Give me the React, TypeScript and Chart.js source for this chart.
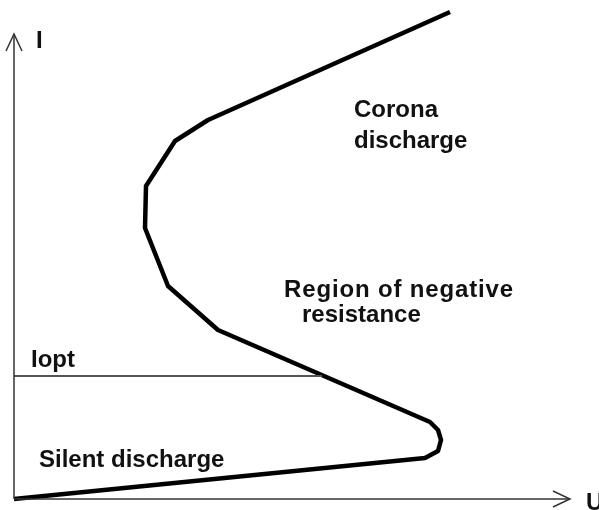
import React, { useEffect, useRef } from "react";
import { Chart, registerables } from "chart.js";

Chart.register(...registerables);

// Characteristic curve I(U) (arbitrary units, origin at axes' crossing)
const curveU = [0, 411, 424, 427, 424, 416, 204, 154, 131, 132, 161, 194, 436];
const curveI = [0, 41, 48, 59, 69, 77, 169, 213, 271, 313, 358, 379, 487];

// Axes extent and arrowheads
const axisUMax = 556;
const axisIMax = 465;
const arrowLen = 17;
const arrowHalf = 8;

// Optimal current level
const iopt = 123;
const ioptUEnd = 308;

// Text labels: [text, U, I, letterSpacing]
const labels: [string, number, number, number][] = [
  ["I", 22, 451, 0],
  ["Corona", 340, 382, 0],
  ["discharge", 340, 351, 0],
  ["Region of negative", 270, 202, 0.85],
  ["resistance", 288, 177, 0],
  ["Iopt", 17, 132, 0],
  ["Silent discharge", 25, 32, 0],
  ["U", 572, -11, 0],
];

const textPlugin = {
  id: "textLabels",
  afterDatasetsDraw(chart: any) {
    const { ctx, scales } = chart;
    ctx.save();
    ctx.fillStyle = "#111";
    ctx.font = 'bold 24px "Liberation Sans", Arial, sans-serif';
    ctx.textBaseline = "alphabetic";
    ctx.textAlign = "left";
    for (const [t, u, i, ls] of labels) {
      (ctx as any).letterSpacing = ls + "px";
      ctx.fillText(t, scales.x.getPixelForValue(u), scales.y.getPixelForValue(i));
    }
    ctx.restore();
  },
};

export default function App() {
  const ref = useRef<HTMLCanvasElement | null>(null);
  useEffect(() => {
    if (!ref.current) return;
    const thin = (data: { x: number; y: number }[], w = 1.5, c = "#333") => ({
      data,
      showLine: true,
      borderColor: c,
      borderWidth: w,
      pointRadius: 0,
      fill: false,
      tension: 0,
    });
    const chart = new Chart(ref.current, {
      type: "scatter",
      data: {
        datasets: [
          thin([{ x: 0, y: 0 }, { x: 0, y: axisIMax }]),
          thin([
            { x: -arrowHalf, y: axisIMax - arrowLen },
            { x: 0, y: axisIMax },
            { x: arrowHalf, y: axisIMax - arrowLen },
          ]),
          thin([{ x: 0, y: 0 }, { x: axisUMax, y: 0 }]),
          thin([
            { x: axisUMax - arrowLen, y: arrowHalf },
            { x: axisUMax, y: 0 },
            { x: axisUMax - arrowLen, y: -arrowHalf },
          ]),
          thin([{ x: 0, y: iopt }, { x: ioptUEnd, y: iopt }], 2, "#555"),
          {
            data: curveU.map((u, k) => ({ x: u, y: curveI[k] })),
            showLine: true,
            borderColor: "#000",
            borderWidth: 4.5,
            borderJoinStyle: "round",
            borderCapStyle: "butt",
            pointRadius: 0,
            fill: false,
            tension: 0,
          },
        ],
      },
      options: {
        animation: false,
        responsive: false,
        devicePixelRatio: 1,
        layout: { padding: 0 },
        plugins: { legend: { display: false }, tooltip: { enabled: false } },
        scales: {
          x: { type: "linear", display: false, min: -14, max: 585 },
          y: { type: "linear", display: false, min: -11, max: 499 },
        },
      } as any,
      plugins: [textPlugin],
    });
    return () => chart.destroy();
  }, []);
  return (
    <div style={{ position: "absolute", left: 0, top: 0, width: 599, height: 510, background: "#fff" }}>
      <canvas ref={ref} width={599} height={510} />
    </div>
  );
}
